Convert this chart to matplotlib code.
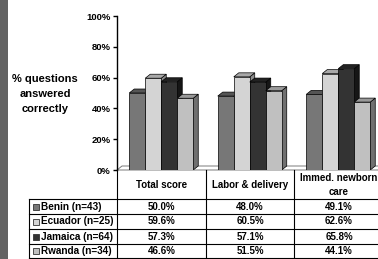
import matplotlib.pyplot as plt
from matplotlib.patches import Polygon, Rectangle
from matplotlib.lines import Line2D

plt.rcParams["font.family"] = ["Liberation Sans", "DejaVu Sans"]
plt.rcParams["font.weight"] = "bold"

# --------------------------- DATA --------------------------- #
categories = ["Total score", "Labor & delivery", "Immed. newborn\ncare"]
countries = ["Benin (n=43)", "Ecuador (n=25)", "Jamaica (n=64)", "Rwanda (n=34)"]
benin = [50.0, 48.0, 49.1]
ecuador = [59.6, 60.5, 62.6]
jamaica = [57.3, 57.1, 65.8]
rwanda = [46.6, 51.5, 44.1]
series = [benin, ecuador, jamaica, rwanda]
y_ticks = [0, 20, 40, 60, 80, 100]

front_cols = ["#777777", "#d4d4d4", "#333333", "#c0c0c0"]
top_cols = ["#555555", "#a8a8a8", "#222222", "#999999"]
side_cols = ["#4a4a4a", "#8c8c8c", "#161616", "#707070"]

W, H = 378, 259


def fx(x):
    return x / W


def fy(y):
    return 1 - y / H


fig = plt.figure(figsize=(W / 100, H / 100), dpi=100)
fig.patch.set_facecolor("white")

# dark stripe on the left
fig.add_artist(Rectangle((0, 0), fx(8), 1, transform=fig.transFigure,
                         facecolor="#636363", edgecolor="none"))

# --------------------------- CHART --------------------------- #
ax_left, ax_right, ax_top, ax_bot = 117, 382.5, 16, 170
ax = fig.add_axes([fx(ax_left), fy(ax_bot), (ax_right - ax_left) / W, (ax_bot - ax_top) / H])
ax.set_xlim(-0.5, 2.5)
ax.set_ylim(0, 100)
ax.patch.set_alpha(0)
for s in ["top", "right", "bottom"]:
    ax.spines[s].set_visible(False)
ax.spines["left"].set_linewidth(1.0)
ax.set_xticks([])
ax.set_yticks(y_ticks)
ax.set_yticklabels([f"{t}%" for t in y_ticks], fontsize=6.8, fontweight="bold")
ax.tick_params(axis="y", length=3, width=1, pad=1.5)

px_x = 3.0 / (ax_right - ax_left)  # data units per pixel (x)
px_y = 100.0 / (ax_bot - ax_top)    # data units per pixel (y)
dx, dy = 5 * px_x, 4 * px_y
bw = 16 * px_x

# floor
floor = Polygon([(-0.5, 0), (3.0, 0), (3.0 + dx, dy), (-0.5 + dx, dy)],
                closed=True, facecolor="white", edgecolor="#7a7a7a", lw=0.7,
                joinstyle="miter", zorder=1, clip_on=False)
ax.add_patch(floor)

for g in range(len(categories)):
    for i, vals in enumerate(series):
        x0 = g - 2 * bw + i * bw
        v = vals[g]
        side = Polygon([(x0 + bw, 0), (x0 + bw + dx, dy), (x0 + bw + dx, v + dy), (x0 + bw, v)],
                       closed=True, facecolor=side_cols[i], edgecolor="black", lw=0.5, zorder=2 + i)
        top = Polygon([(x0, v), (x0 + dx, v + dy), (x0 + bw + dx, v + dy), (x0 + bw, v)],
                      closed=True, facecolor=top_cols[i], edgecolor="black", lw=0.5, zorder=2 + i)
        ax.add_patch(side)
        ax.add_patch(top)
        ax.bar(x0, v, width=bw, align="edge", color=front_cols[i],
               edgecolor="black", lw=0.5, zorder=2 + i)

# y axis title
for txt, yy in zip(["% questions", "answered", "correctly"], [79, 94, 109]):
    fig.text(fx(45), fy(yy), txt, ha="center", va="center", fontsize=8, fontweight="bold")

# --------------------------- TABLE --------------------------- #
col_edges = [117, 206, 294, 382.5]
row_lines = [199, 214, 229, 244, 258]
lc = "black"


def hline(y, x0, x1, lw=0.8):
    fig.add_artist(Line2D([fx(x0), fx(x1)], [fy(y), fy(y)], transform=fig.transFigure,
                          color=lc, lw=lw))


def vline(x, y0, y1, lw=0.8):
    fig.add_artist(Line2D([fx(x), fx(x)], [fy(y0), fy(y1)], transform=fig.transFigure,
                          color=lc, lw=lw))


for y in row_lines:
    hline(y, 29, W)
vline(29, 199, 258)
for x in col_edges[:3]:
    vline(x, 170, 258)

# header
for g, cat in enumerate(categories):
    cx = (col_edges[g] + col_edges[g + 1]) / 2
    if g == 2:
        cx = (col_edges[g] + W) / 2 + 3
    fig.text(fx(cx), fy(185), cat, ha="center", va="center", fontsize=7,
             fontweight="bold", linespacing=1.6)

# rows
for i, (name, vals) in enumerate(zip(countries, series)):
    yc = (row_lines[i] + row_lines[i + 1]) / 2
    fig.add_artist(Rectangle((fx(33), fy(yc + 3)), 6 / W, 6 / H, transform=fig.transFigure,
                             facecolor=front_cols[i], edgecolor="#333333", lw=0.6))
    fig.text(fx(41), fy(yc), name, ha="left", va="center", fontsize=7.2, fontweight="bold")
    for g, v in enumerate(vals):
        cx = (col_edges[g] + col_edges[g + 1]) / 2
        if g == 2:
            cx = (col_edges[g] + W) / 2 + 3
        fig.text(fx(cx), fy(yc), f"{v:.1f}%", ha="center", va="center", fontsize=7,
                 fontweight="bold")

plt.savefig("out.png", dpi=100)
